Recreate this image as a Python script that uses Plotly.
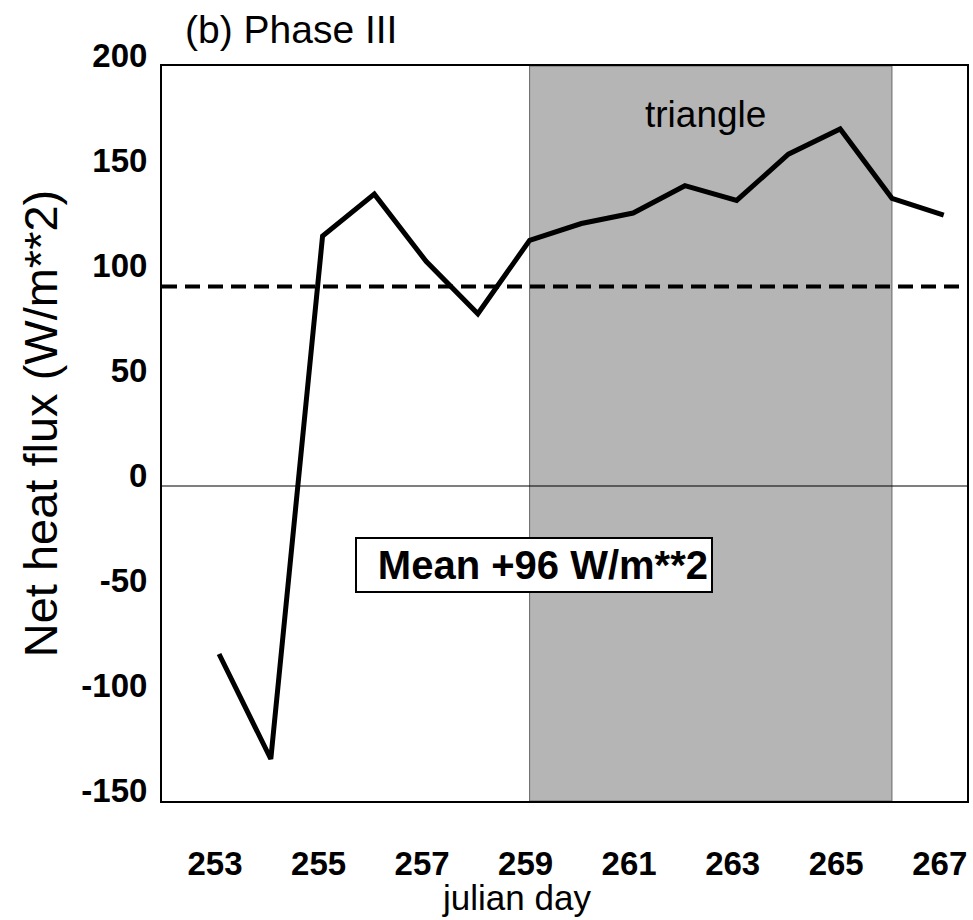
import plotly.graph_objects as go

days = [253, 254, 255, 256, 257, 258, 259, 260, 261, 262, 263, 264, 265, 266, 267]
net_flux = [-80, -130, 119, 139, 107, 82, 117, 125, 130, 143, 136, 158, 170, 137, 129]
mean_flux = 95
triangle_start = 259
triangle_end = 266
x_tick_vals = [253, 255, 257, 259, 261, 263, 265, 267]
x_tick_text = ["253", "255", "257", "259", "261", "263", "265", "267"]
y_tick_vals = [-150, -100, -50, 0, 50, 100, 150, 200]
y_tick_text = ["-150", "-100", "-50", "0", "50", "100", "150", "200"]

FONT = "Liberation Sans, Arial, Helvetica, sans-serif"
X_RANGE = [251.898, 267.45]
Y_RANGE = [-150, 200]

fig = go.Figure()

fig.add_trace(go.Scatter(
    x=days, y=net_flux, mode="lines",
    line=dict(color="black", width=5),
    showlegend=False, hoverinfo="skip",
))

# shaded triangle period
fig.add_shape(type="rect", xref="x", yref="paper",
              x0=triangle_start, x1=triangle_end, y0=0, y1=1,
              fillcolor="#b5b5b5", line=dict(color="#666666", width=1),
              layer="below")
# zero line
fig.add_shape(type="line", xref="paper", yref="y",
              x0=0, x1=1, y0=0, y1=0,
              line=dict(color="black", width=1.2), layer="above")
# mean dashed line
fig.add_shape(type="line", xref="paper", yref="y",
              x0=0, x1=1, y0=mean_flux, y1=mean_flux,
              line=dict(color="black", width=4, dash="15px,8px"), layer="above")

fig.add_annotation(x=262.4, y=177, xref="x", yref="y",
                   text="triangle", showarrow=False,
                   font=dict(family=FONT, size=37, color="black"))

fig.add_annotation(x=259.09, y=-37.6, xref="x", yref="y",
                   text="<b>Mean +%d W/m**2</b>" % 96, showarrow=False,
                   font=dict(family=FONT, size=40, color="black"),
                   bgcolor="white", bordercolor="black", borderwidth=2,
                   borderpad=3, width=348, height=46, align="right")

fig.add_annotation(x=0.026, y=1.05, xref="paper", yref="paper",
                   xanchor="left", yanchor="middle",
                   text="(b) Phase III", showarrow=False,
                   font=dict(family=FONT, size=39, color="black"))

fig.add_annotation(x=(517 - 162) / 807, y=-(897 - 801) / 735, xref="paper", yref="paper",
                   xanchor="center", yanchor="middle",
                   text="julian day", showarrow=False,
                   font=dict(family=FONT, size=35, color="black"))

fig.add_annotation(x=-(162 - 40) / 807, y=(801 - 423) / 735, xref="paper", yref="paper",
                   xanchor="center", yanchor="middle", textangle=-90,
                   text="Net heat flux (W/m**2)", showarrow=False,
                   font=dict(family=FONT, size=47, color="black"))

fig.update_xaxes(range=X_RANGE, tickmode="array", tickvals=x_tick_vals, ticktext=x_tick_text,
                 showgrid=False, zeroline=False, ticks="",
                 showline=True, linecolor="black", linewidth=2, mirror=True,
                 tickfont=dict(family=FONT, size=33, color="black", weight="bold"),
                 ticklabelshift=-4, ticklabelstandoff=32)
fig.update_yaxes(range=Y_RANGE, tickmode="array", tickvals=y_tick_vals, ticktext=y_tick_text,
                 showgrid=False, zeroline=False, ticks="",
                 showline=True, linecolor="black", linewidth=2, mirror=True,
                 tickfont=dict(family=FONT, size=33, color="black", weight="bold"),
                 ticklabelshift=-11, ticklabelstandoff=6)

fig.update_layout(width=973, height=920,
                  margin=dict(l=162, r=4, t=66, b=119, pad=0),
                  plot_bgcolor="white", paper_bgcolor="white",
                  font=dict(family=FONT, color="black"))

fig.write_html("out.html")
